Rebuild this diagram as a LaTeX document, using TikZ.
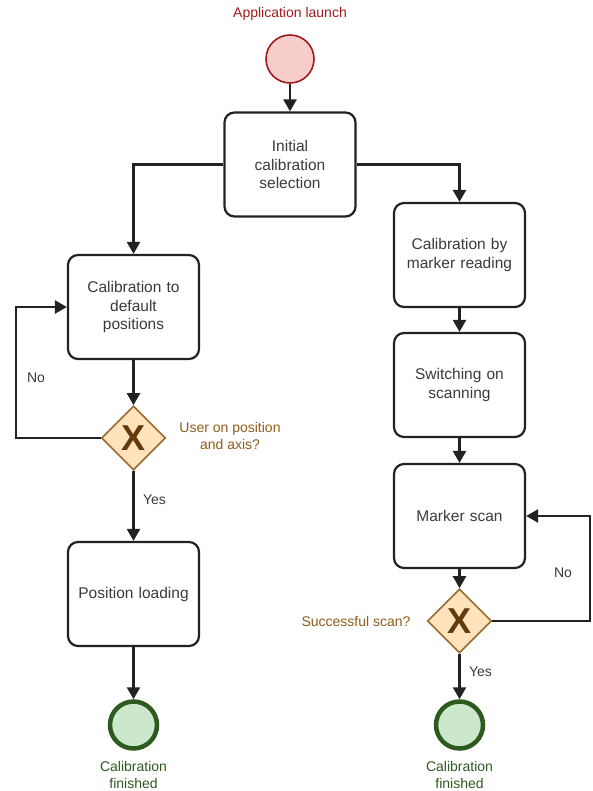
\documentclass[tikz,border=0pt]{standalone}
\usepackage{fontspec}
\setmainfont{Liberation Sans}
\usetikzlibrary{arrows.meta,positioning,shapes.geometric}
\definecolor{ink}{HTML}{222222}
\definecolor{labgray}{HTML}{3A3A3A}
\definecolor{startred}{HTML}{A11C1C}
\definecolor{startfill}{HTML}{F8CECC}
\definecolor{gatefill}{HTML}{FFE3BD}
\definecolor{gatedraw}{HTML}{9A6A2C}
\definecolor{gatex}{HTML}{633A0E}
\definecolor{gatetext}{HTML}{8E5B1A}
\definecolor{endgreen}{HTML}{2C5A1F}
\definecolor{endfill}{HTML}{CBE8CC}
\tikzset{
  task/.style={draw=ink,line width=2.2pt,rounded corners=10pt,minimum width=131pt,minimum height=104pt,text width=118pt,align=center,text=labgray,font=\fontsize{15.5}{18.5}\selectfont},
  gate/.style={diamond,draw=gatedraw,fill=gatefill,line width=1.6pt,minimum size=64pt,inner sep=0pt,text=gatex,font=\fontsize{36}{36}\selectfont\bfseries},
  startev/.style={circle,draw=startred,fill=startfill,line width=1.6pt,minimum size=48pt},
  endev/.style={circle,draw=endgreen,fill=endfill,line width=4.5pt,minimum size=47pt},
  flow/.style={draw=ink,line width=2.4pt,-{Triangle[length=12pt,width=13pt]}},
  lab/.style={font=\fontsize{14}{17}\selectfont,align=center}
}
\begin{document}
\begin{tikzpicture}[x=1pt,y=-1pt]
  \useasboundingbox (0,0) rectangle (593,791);
  % start and first choice
  \node[startev] (start) at (290,59) {};
  \node[lab,text=startred] (startlab) at (290,14) {Application launch};
  \node[task] (init) at (290,164.5) {Initial\\calibration\\selection};
  % left branch
  \node[task] (caldef) at (133.5,307) {Calibration to\\default\\positions};
  \node[gate] (gateL) at (133.5,438) {X};
  \node[lab,text=gatetext] (gateLlab) at (230,436) {User on position\\and axis?};
  \node[task] (posload) at (133.5,594) {Position loading};
  \node[endev] (endL) at (133.5,725) {};
  \node[lab,text=endgreen] (endLlab) at (133.5,775) {Calibration\\finished};
  \coordinate (loopL) at (16,438);
  % right branch
  \node[task] (calmark) at (459.5,255) {Calibration by\\marker reading};
  \node[task] (switchon) at (459.5,385) {Switching on\\scanning};
  \node[task] (markscan) at (459.5,516) {Marker scan};
  \node[gate] (gateR) at (459.5,621) {X};
  \node[lab,text=gatetext,anchor=east] (gateRlab) at (414,621) {Successful scan?};
  \node[endev] (endR) at (459.5,725) {};
  \node[lab,text=endgreen] (endRlab) at (459.5,775) {Calibration\\finished};
  \coordinate (loopR) at (590,621);
  % flows
  \draw[flow] (start) -- (init);
  \draw[flow] (init.west) -| (caldef.north);
  \draw[flow] (init.east) -| (calmark.north);
  \draw[flow] (caldef) -- (gateL);
  \draw[flow] (gateL.west) -- (loopL) |- (caldef.west);
  \node[lab,text=labgray] at (36,378) {No};
  \draw[flow] (gateL) -- node[lab,text=labgray,pos=0.42,right=5pt] {Yes} (posload);
  \draw[flow] (posload) -- (endL);
  \draw[flow] (calmark) -- (switchon);
  \draw[flow] (switchon) -- (markscan);
  \draw[flow] (markscan) -- (gateR);
  \draw[flow] (gateR.east) -- (loopR) |- (markscan.east);
  \node[lab,text=labgray] at (563,573) {No};
  \draw[flow] (gateR) -- node[lab,text=labgray,pos=0.4,right=5pt] {Yes} (endR);
\end{tikzpicture}
\end{document}
